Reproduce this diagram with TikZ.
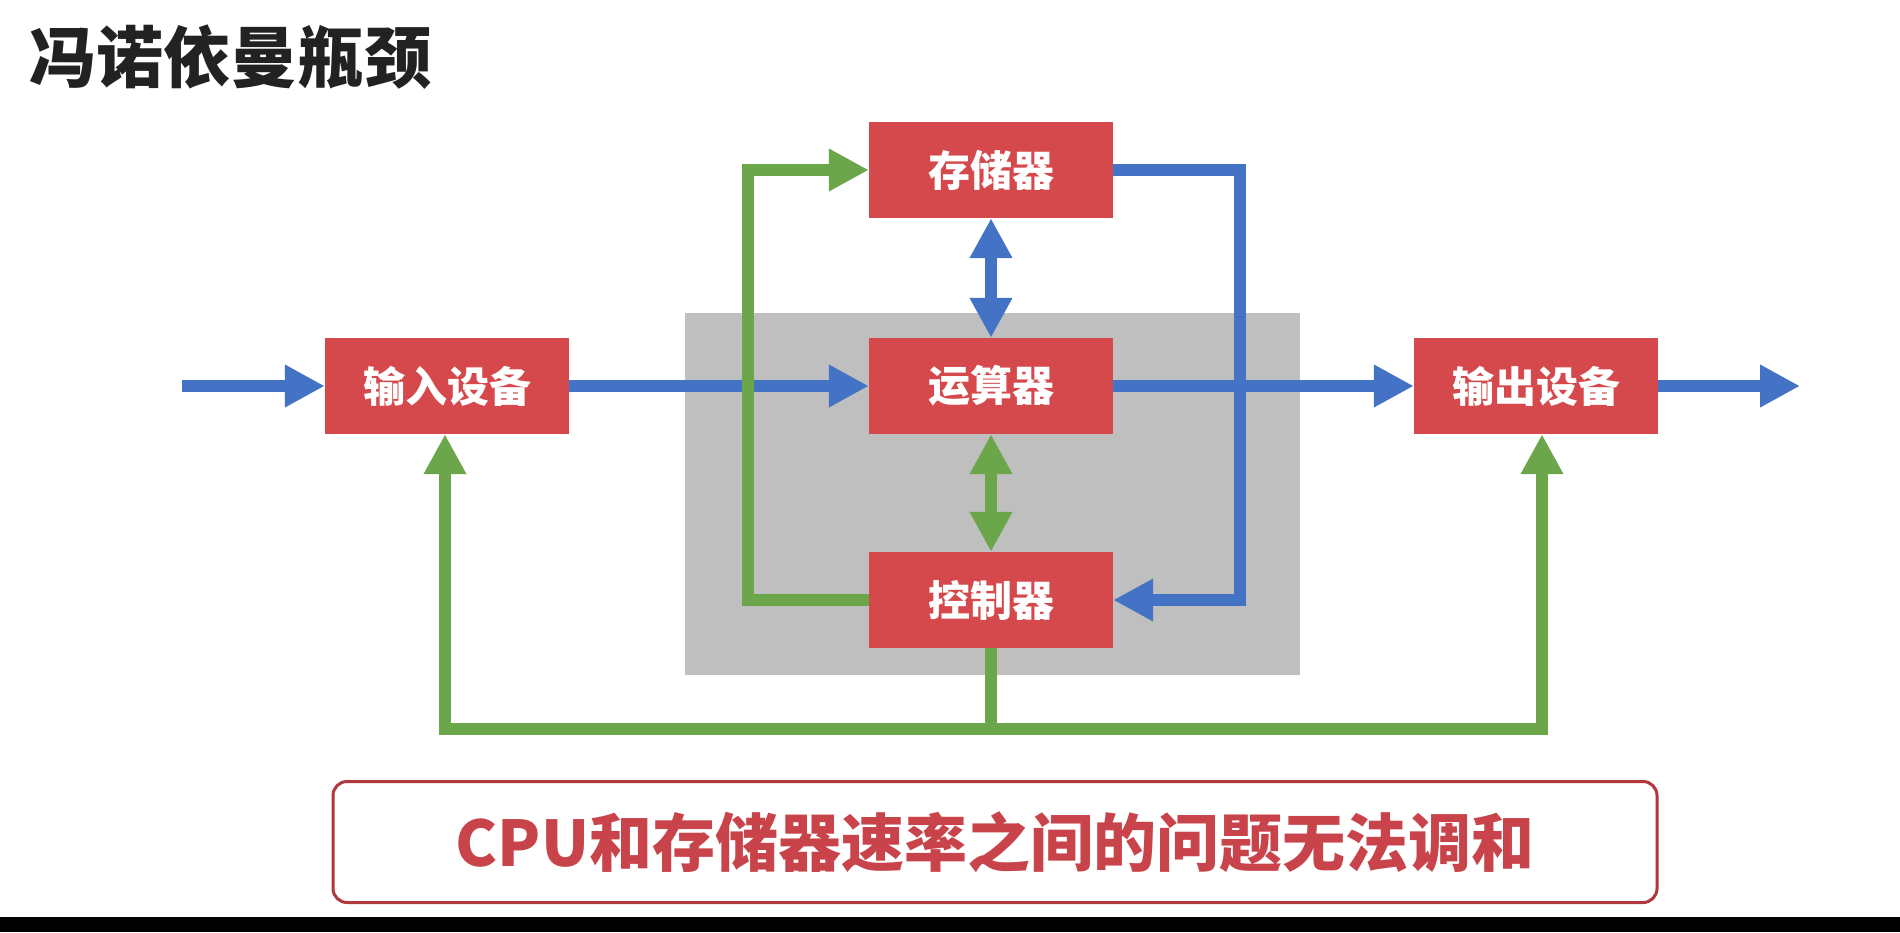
\documentclass[tikz,border=0pt]{standalone}
\usepackage{fontspec}
\setmainfont{Noto Sans CJK SC}
\usetikzlibrary{arrows.meta}
\definecolor{boxred}{HTML}{D5484C}
\definecolor{lblue}{HTML}{4472C4}
\definecolor{lgreen}{HTML}{6CA64A}
\definecolor{cpugray}{HTML}{BFBFBF}
\definecolor{notered}{HTML}{C8434A}
\definecolor{noteborder}{HTML}{B0383D}
\definecolor{titlegray}{HTML}{222222}
\begin{document}
\begin{tikzpicture}[x=1pt,y=-1pt,
  unit/.style={fill=boxred, minimum width=244pt, minimum height=96pt, inner sep=0pt,
    text=white, font=\fontsize{42}{42}\selectfont\bfseries},
  tip/.tip={Triangle[length=40pt,width=40pt]},
  bluearrow/.style={draw=lblue, line width=12pt},
  greenarrow/.style={draw=lgreen, line width=12pt}]
\useasboundingbox (0,0) rectangle (1900,932);
\fill[white] (0,0) rectangle (1900,932);
\fill[black] (0,917) rectangle (1900,932);
\node[anchor=west, inner sep=0pt, text=titlegray, font=\fontsize{67}{67}\selectfont\bfseries] (title) at (29,57) {冯诺依曼瓶颈};
\fill[cpugray] (685,313) rectangle (1300,675);
\node[unit] (mem) at (991,170) {存储器};
\node[unit] (alu) at (991,386) {运算器};
\node[unit] (ctl) at (991,600) {控制器};
\node[unit] (in) at (447,386) {输入设备};
\node[unit] (out) at (1536,386) {输出设备};
\coordinate (src) at (182,386);
\coordinate (dst) at (1800,386);
% blue
\draw[bluearrow,-tip] (src) -- (in.west);
\draw[bluearrow,-tip] (in.east) -- (alu.west);
\draw[bluearrow,-tip] (alu.east) -- (out.west);
\draw[bluearrow,-tip] (out.east) -- (dst);
\draw[bluearrow,tip-tip] (mem.south) -- (alu.north);
\draw[bluearrow,-tip] (mem.east) -- (1240,170) -- (1240,600) -- (ctl.east);
% green
\draw[greenarrow,tip-tip] (alu.south) -- (ctl.north);
\draw[greenarrow,-tip] (ctl.west) -- (748,600) -- (748,170) -- (mem.west);
\draw[greenarrow] (ctl.south) -- (991,729);
\draw[greenarrow,-tip] (991,729) -| ([xshift=-2pt]in.south);
\draw[greenarrow,-tip] (991,729) -| ([xshift=6pt]out.south);
% note
\node[draw=noteborder, line width=3pt, rounded corners=14pt, minimum width=1324pt,
  minimum height=121pt, inner sep=0pt, text=notered, font=\fontsize{63}{63}\selectfont\bfseries] (note) at (995,842)
  {CPU和存储器速率之间的问题无法调和};
\end{tikzpicture}
\end{document}
